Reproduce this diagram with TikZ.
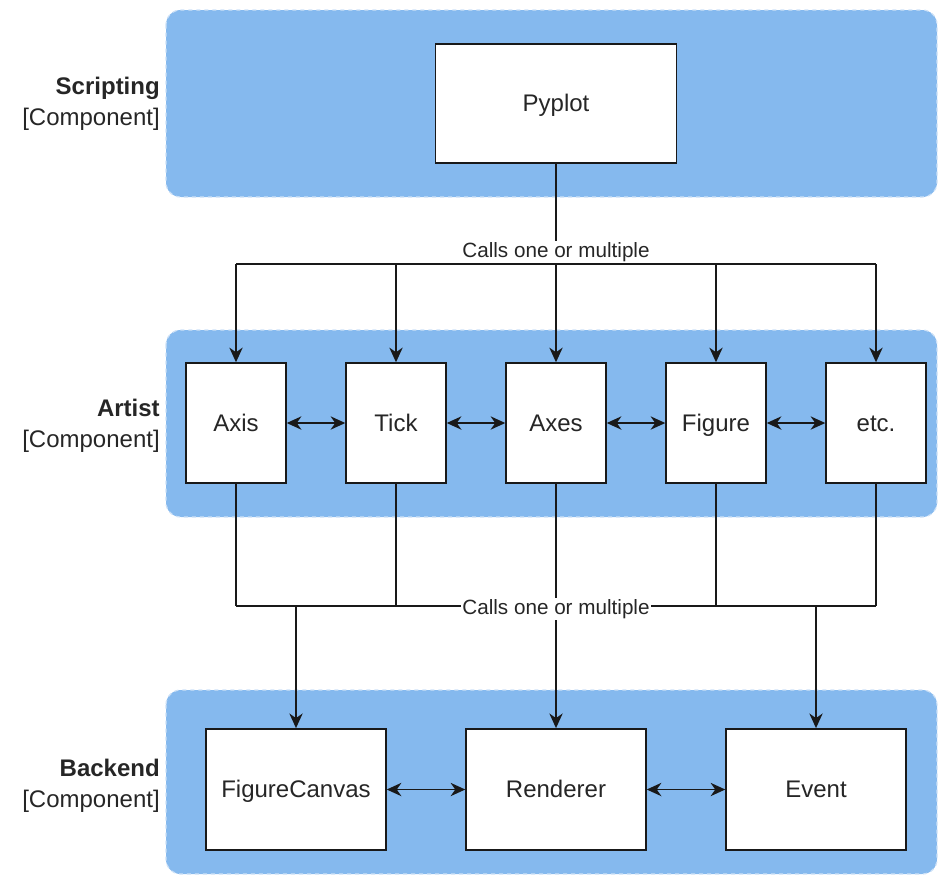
\documentclass[tikz,border=0pt]{standalone}
\usepackage{fontspec}
\setmainfont{Liberation Sans}
\usetikzlibrary{arrows.meta,positioning}
\definecolor{layerblue}{RGB}{133,185,238}
\definecolor{layeredge}{RGB}{205,225,247}

\begin{document}
\begin{tikzpicture}[
      x=0.75pt,y=-0.75pt,
      node distance=43.9pt,
      every node/.style={font=\fontsize{18}{22}\selectfont,text=black!85},
      layer/.style={fill=layerblue,draw=layeredge,dashed,line width=0.9pt,rounded corners=11pt},
      lbl/.style={anchor=east,align=right,inner sep=0pt,font=\fontsize{18}{23}\selectfont},
      box/.style={draw=black!90,fill=white,line width=1.1pt,inner sep=0pt,
                  text height=14.5pt,text depth=2.5pt,
                  minimum width=75pt,minimum height=90pt},
      wide/.style={box,minimum width=135pt,minimum height=91pt},
      topbox/.style={box,minimum width=181pt,minimum height=89pt},
      calls/.style={fill=white,inner sep=1pt,font=\fontsize{15.5}{18}\selectfont},
      line/.style={line width=1.1pt,draw=black!90},
      arr/.style={line,-{Stealth[length=11pt,width=10pt,inset=3.5pt]}},
      dbl/.style={line,{Stealth[length=11pt,width=10pt,inset=3.5pt]}-{Stealth[length=11pt,width=10pt,inset=3.5pt]}},
    ]
      \useasboundingbox (0,0) rectangle (938,876);
      \path[layer] (166,10) rectangle (937,197);
      \path[layer] (166,330) rectangle (937,517);
      \path[layer] (166,690) rectangle (937,874);

      \node[lbl] (scripting) at (160,104) {\textbf{Scripting}\\{[Component]}};
      \node[lbl] (artist)    at (160,426) {\textbf{Artist}\\{[Component]}};
      \node[lbl] (backend)   at (160,786) {\textbf{Backend}\\{[Component]}};

      \node[topbox] (pyplot) at (556,103.5) {Pyplot};

      \node[box] (axis) at (236,423) {Axis};
      \node[box,right=of axis]   (tick)   {Tick};
      \node[box,right=of tick]   (axes)   {Axes};
      \node[box,right=of axes]   (figure) {Figure};
      \node[box,right=of figure] (etcbox) {etc.};

      \node[wide] (canvas) at (296,789.5) {FigureCanvas};
      \node[wide,right=58.9pt of canvas]   (renderer) {Renderer};
      \node[wide,right=58.9pt of renderer] (event)    {Event};

      \coordinate (upbus)  at (556,264);
      \coordinate (lowbus) at (556,606);

      \node[calls,anchor=south] (callsup) at (556,263) {Calls one or multiple};
      \draw[line] (pyplot) -- (callsup);
      \draw[line] (axis.north |- upbus) -- (etcbox.north |- upbus);
      \draw[arr] (axis.north |- upbus)   -- (axis);
      \draw[arr] (tick.north |- upbus)   -- (tick);
      \draw[arr] (axes.north |- upbus)   -- (axes);
      \draw[arr] (figure.north |- upbus) -- (figure);
      \draw[arr] (etcbox.north |- upbus) -- (etcbox);

      \draw[dbl] (axis)   -- (tick);
      \draw[dbl] (tick)   -- (axes);
      \draw[dbl] (axes)   -- (figure);
      \draw[dbl] (figure) -- (etcbox);

      \draw[line] (axis.south |- lowbus) -- (etcbox.south |- lowbus);
      \draw[line] (axis)   -- (axis.south |- lowbus);
      \draw[line] (tick)   -- (tick.south |- lowbus);
      \draw[line] (figure) -- (figure.south |- lowbus);
      \draw[line] (etcbox) -- (etcbox.south |- lowbus);
      \draw[arr] (axes) -- (renderer);
      \draw[arr] (canvas.north |- lowbus) -- (canvas);
      \draw[arr] (event.north |- lowbus)  -- (event);
      \node[calls] (callslow) at (556,609) {Calls one or multiple};

      \draw[dbl] (canvas)   -- (renderer);
      \draw[dbl] (renderer) -- (event);
    \end{tikzpicture}
\end{document}
